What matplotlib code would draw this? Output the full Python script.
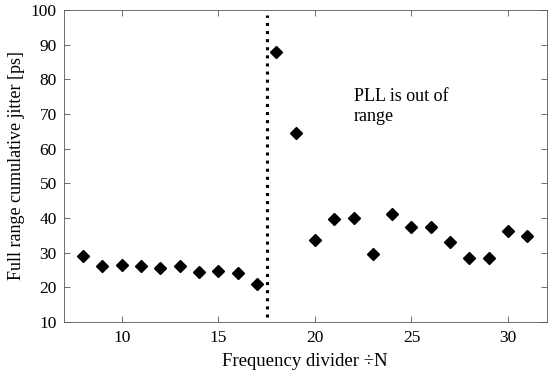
import matplotlib.pyplot as plt

plt.rcParams['font.family'] = ['Liberation Serif', 'DejaVu Serif']

divider = [8, 9, 10, 11, 12, 13, 14, 15, 16, 17, 18, 19, 20, 21, 22, 23, 24, 25, 26, 27, 28, 29, 30, 31]
jitter = [29.0, 26.0, 26.3, 26.0, 25.7, 26.0, 24.5, 24.8, 24.2, 21.0, 88.0, 64.5,
          33.5, 39.7, 40.0, 29.7, 41.2, 37.3, 37.3, 33.2, 28.4, 28.4, 36.1, 34.9]
limit_n = 17.5

fig = plt.figure(figsize=(5.5, 3.73), dpi=100)
ax = fig.add_axes([0.116, 0.137, 0.878, 0.836])

ax.plot(divider, jitter, linestyle='none', marker='D', markersize=5.8,
        color='black')
ax.plot([limit_n, limit_n], [11.5, 98.5], color='black', linestyle=':',
        linewidth=2.2)
ax.text(22, 77.5, 'PLL is out of\nrange', fontsize=13, va='top', ha='left')

ax.set_xlim(7, 32)
ax.set_ylim(10, 100)
ax.set_xticks([10, 15, 20, 25, 30])
ax.set_yticks(range(10, 101, 10))
ax.tick_params(direction='in', top=True, right=True, labelsize=12.5, length=4,
               width=0.6, color='#555555')
ax.tick_params(axis='x', pad=6)
ax.tick_params(axis='y', pad=5)
for s in ax.spines.values():
    s.set_linewidth(0.6)
    s.set_color('#555555')

ax.set_xlabel('Frequency divider ÷N', fontsize=13.5, labelpad=5)
ax.set_ylabel('Full range cumulative jitter [ps]', fontsize=13, labelpad=4)

fig.savefig('out.png', dpi=100)
